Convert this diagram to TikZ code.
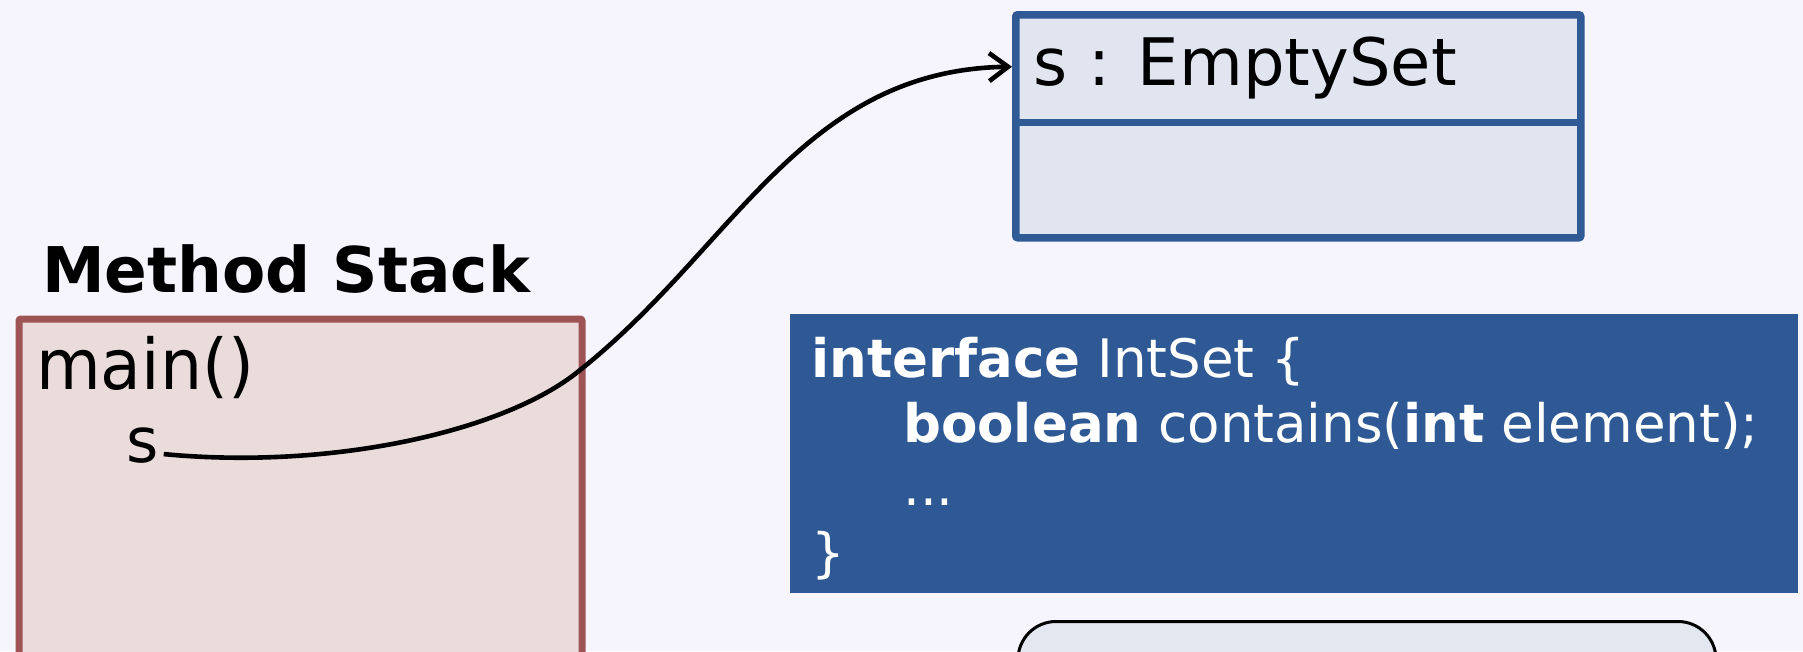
\documentclass[tikz,border=0pt]{standalone}
\usepackage{fontspec}
\setmainfont{DejaVu Sans}
\newfontfamily\narrowfont[FakeStretch=0.95]{DejaVu Sans}
\usetikzlibrary{arrows.meta}
\definecolor{bg}{HTML}{F6F4FD}
\definecolor{stackfill}{HTML}{EBDCDC}
\definecolor{stackline}{HTML}{9E5355}
\definecolor{objfill}{HTML}{E0E5F0}
\definecolor{objline}{HTML}{2F5A96}
\definecolor{ifacefill}{HTML}{2F5995}
\definecolor{roundfill}{HTML}{E3E8F0}
\tikzset{
  big/.style={font=\fontsize{65.5}{78}\selectfont, inner sep=0pt, anchor=base west},
  framelabel/.style={font=\narrowfont\fontsize{70}{84}\selectfont, inner sep=0pt, anchor=base west},
  varlabel/.style={font=\fontsize{62}{74}\selectfont, inner sep=0pt, anchor=base west},
  bigbold/.style={font=\bfseries\fontsize{63}{76}\selectfont, inner sep=0pt, anchor=base west},
  code/.style={font=\fontsize{53}{64}\selectfont, text=white, inner sep=0pt, anchor=base west},
  stackbox/.style={draw=stackline, fill=stackfill, line width=7pt, rounded corners=2pt, inner sep=0pt, anchor=north west},
  objbox/.style={draw=objline, fill=objfill, line width=7.5pt, rounded corners=2pt, inner sep=0pt, anchor=north west},
  ifacebox/.style={fill=ifacefill, inner sep=0pt, anchor=north west},
  roundbox/.style={draw=black, fill=roundfill, line width=3pt, rounded corners=38pt, inner sep=0pt, anchor=north west},
  conn/.style={draw=black, line width=4.6pt, -{Straight Barb[length=19pt,width=28pt,line width=4.6pt]}}
}
\begin{document}
\begin{tikzpicture}[x=1pt,y=-1pt]
\useasboundingbox (0,0) rectangle (1803,651);
\clip (0,0) rectangle (1803,651);
\fill[bg] (0,0) rectangle (1803,651);

% method stack
\node[bigbold] (title) at (42,292) {Method Stack};
\node[stackbox, minimum width=563pt, minimum height=420pt] (stack) at (15.5,315.5) {};
\node[framelabel] (main) at (36,389) {main()};
\node[varlabel] (s) at (126,462) {s};

% object box
\node[objbox, minimum width=565pt, minimum height=223pt] (obj) at (1012,11) {};
\node[inner sep=0pt, minimum width=565pt, minimum height=111pt, anchor=north west] (objtop) at (1012,11) {};
\draw[objline, line width=7.5pt] (objtop.south west) -- (objtop.south east);
\node[big] (objname) at (1033,85) {s : EmptySet};

% interface box
\node[ifacebox, minimum width=1008pt, minimum height=279pt] (iface) at (790,314) {};
\node[code] (l1) at (811,377) {\textbf{interface} IntSet \{};
\node[code] (l2) at (903,442) {\textbf{boolean} contains(\textbf{int} element);};
\node[code] (l3) at (903,505) {...};
\node[code] (l4) at (811,571) {\}};

% rounded box at bottom
\node[roundbox, minimum width=698pt, minimum height=200pt] (rbox) at (1016.5,620) {};

% connector
\coordinate (bend) at (575,374);
\draw[conn] ([xshift=5pt,yshift=-9pt]s.east) .. controls (330,470) and (500,432) .. (bend)
  .. controls (733,251) and (800,70) .. (objtop.west);
\end{tikzpicture}
\end{document}
